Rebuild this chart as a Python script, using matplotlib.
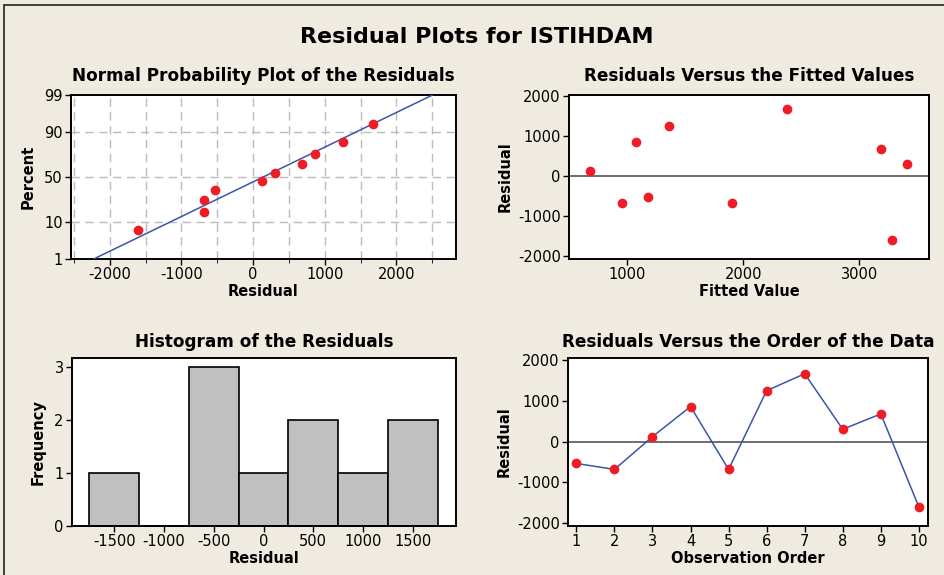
import numpy as np
import matplotlib
matplotlib.use("Agg")
import matplotlib.pyplot as plt
from matplotlib.patches import Rectangle
from statistics import NormalDist

# Residuals in observation order and fitted values
order = [1, 2, 3, 4, 5, 6, 7, 8, 9, 10]
residuals = [-535, -683, 123, 864, -683, 1255, 1671, 305, 683, -1605]
fitted = [1178, 954, 684, 1077, 1901, 1362, 2377, 3410, 3186, 3284]

# Normal probability plot (sorted residuals and their percent)
sorted_res = [-1605, -683, -683, -535, 123, 305, 683, 864, 1255, 1671]
percent = [6.73, 16.35, 25.96, 35.58, 45.19, 54.81, 64.42, 74.04, 83.65, 93.27]
pct_ticks = [1, 10, 50, 90, 99]

hist_edges = [-1750, -1250, -750, -250, 250, 750, 1250, 1750]

bg = "#EFEBE1"
red = "#EE1D25"
blue = "#3A56A8"

plt.rcParams["font.family"] = "DejaVu Sans"
plt.rcParams["axes.unicode_minus"] = False
W, H = 945, 575
fig = plt.figure(figsize=(W / 100, H / 100), dpi=100, facecolor=bg)

# outer frame
fig.add_artist(Rectangle((4 / W, -0.1), 1.2, (H - 5) / H + 0.1, transform=fig.transFigure,
                         fill=False, edgecolor="#222222", linewidth=1.2))


def add_ax(l, t, r, b):
    ax = fig.add_axes([l / W, 1 - b / H, (r - l) / W, (b - t) / H])
    ax.set_facecolor("white")
    for s in ax.spines.values():
        s.set_linewidth(1.4)
        s.set_color("black")
    ax.tick_params(labelsize=10.5, length=4, width=1, colors="black", pad=2)
    return ax


nd = NormalDist()
lab_fs = 10.5
ttl_fs = 12.2

# --- Normal probability plot ---
ax1 = add_ax(71, 95, 456, 259)
z = [nd.inv_cdf(p / 100) for p in percent]
zt = [nd.inv_cdf(p / 100) for p in pct_ticks]
mu = np.mean(residuals)
sd = np.std(residuals, ddof=1)
zl = np.linspace(nd.inv_cdf(0.0101), nd.inv_cdf(0.9899), 50)
ax1.plot(mu + sd * zl, zl, color=blue, linewidth=1.1, zorder=3)
ax1.plot(sorted_res, z, "o", color=red, markersize=7, markeredgewidth=0, zorder=4)
ax1.set_xlim(-2540, 2830)
ax1.set_ylim(zt[0], zt[-1])
ax1.set_yticks(zt)
ax1.set_yticklabels([str(p) for p in pct_ticks])
ax1.set_xticks([-2000, -1000, 0, 1000, 2000])
ax1.set_xticks(np.arange(-2500, 2501, 500), minor=True)
ax1.tick_params(which="minor", length=3)
for xv in np.arange(-2500, 2501, 500):
    ax1.axvline(xv, color="#BBBBBB", linestyle=(0, (6, 4)), linewidth=1, zorder=1)
for yv in zt[1:-1]:
    ax1.axhline(yv, color="#BBBBBB", linestyle=(0, (6, 4)), linewidth=1, zorder=1)
ax1.set_xlabel("Residual", fontsize=lab_fs, fontweight="bold", labelpad=1)
ax1.set_ylabel("Percent", fontsize=lab_fs, fontweight="bold", labelpad=6)
ax1.set_title("Normal Probability Plot of the Residuals", fontsize=ttl_fs, fontweight="bold", pad=10)

# --- Residuals vs fitted ---
ax2 = add_ax(569, 95, 929, 259)
ax2.axhline(0, color="#555555", linewidth=1.2, zorder=1)
ax2.plot(fitted, residuals, "o", color=red, markersize=7, markeredgewidth=0, zorder=3)
ax2.set_xlim(500, 3600)
ax2.set_ylim(-2080, 2030)
ax2.set_xticks([1000, 2000, 3000])
ax2.set_yticks([-2000, -1000, 0, 1000, 2000])
ax2.set_xlabel("Fitted Value", fontsize=lab_fs, fontweight="bold", labelpad=1)
ax2.set_ylabel("Residual", fontsize=lab_fs, fontweight="bold", labelpad=4)
ax2.set_title("Residuals Versus the Fitted Values", fontsize=ttl_fs, fontweight="bold", pad=10)

# --- Histogram ---
ax3 = add_ax(72, 358, 456, 526)
ax3.hist(residuals, bins=hist_edges, color="#C0C0C0", edgecolor="black", linewidth=1.2,
         clip_on=False)
ax3.set_xlim(-1925, 1935)
ax3.set_ylim(0, 3.17)
ax3.set_xticks([-1500, -1000, -500, 0, 500, 1000, 1500])
ax3.set_yticks([0, 1, 2, 3])
ax3.set_xlabel("Residual", fontsize=lab_fs, fontweight="bold", labelpad=1)
ax3.set_ylabel("Frequency", fontsize=lab_fs, fontweight="bold", labelpad=6)
ax3.set_title("Histogram of the Residuals", fontsize=ttl_fs, fontweight="bold", pad=8)

# --- Residuals vs order ---
ax4 = add_ax(568, 358, 928, 526)
ax4.axhline(0, color="#555555", linewidth=1.2, zorder=1)
ax4.plot(order, residuals, "-", color=blue, linewidth=1.1, zorder=2)
ax4.plot(order, residuals, "o", color=red, markersize=7, markeredgewidth=0, zorder=3)
ax4.set_xlim(0.78, 10.24)
ax4.set_ylim(-2074, 2058)
ax4.set_xticks(order)
ax4.set_yticks([-2000, -1000, 0, 1000, 2000])
ax4.set_xlabel("Observation Order", fontsize=lab_fs, fontweight="bold", labelpad=1)
ax4.set_ylabel("Residual", fontsize=lab_fs, fontweight="bold", labelpad=4)
ax4.set_title("Residuals Versus the Order of the Data", fontsize=ttl_fs, fontweight="bold", pad=8)

fig.text(477 / W, 1 - 37 / H, "Residual Plots for ISTIHDAM", ha="center", va="center",
         fontsize=16, fontweight="bold")

fig.savefig("out.png", dpi=100, facecolor=bg)
